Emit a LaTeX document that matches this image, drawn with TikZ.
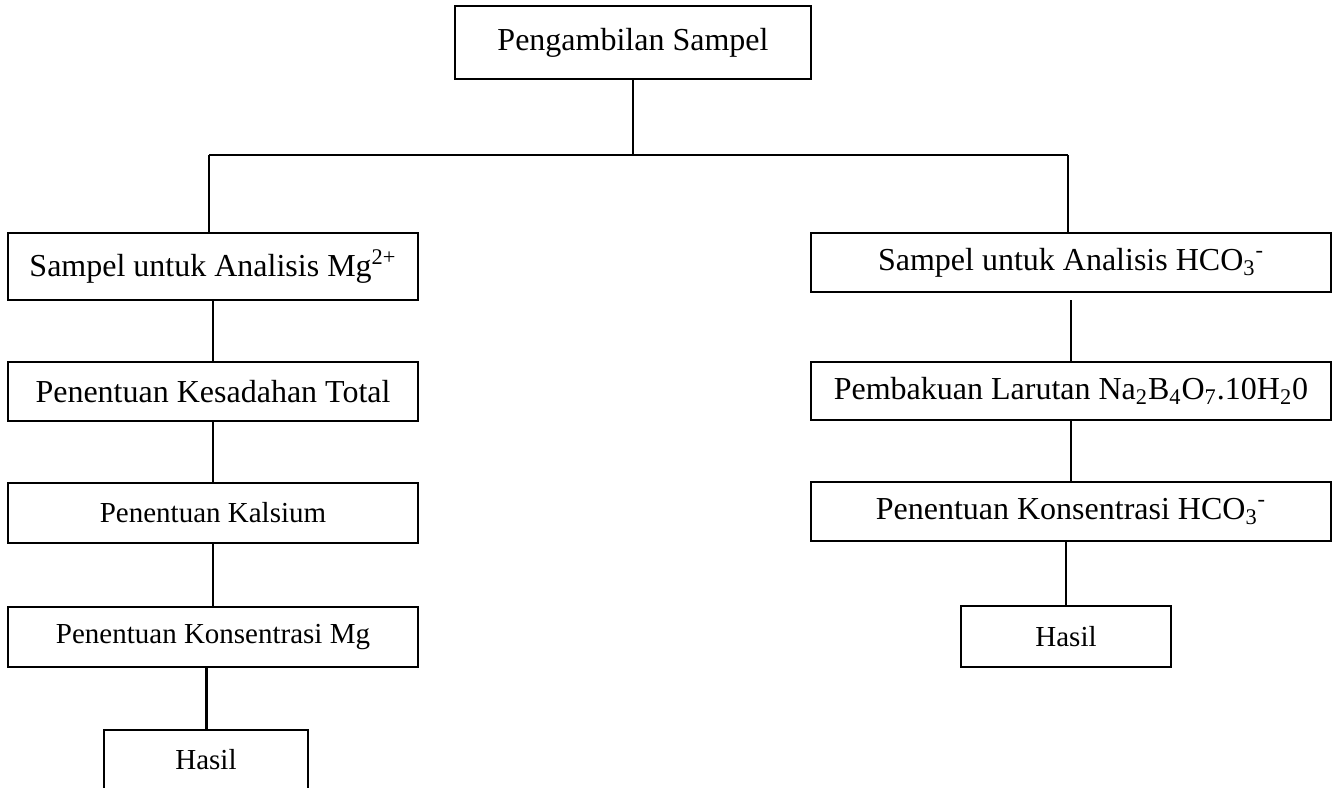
\documentclass[tikz,border=0pt]{standalone}
\usepackage{fontspec}
\setmainfont{Liberation Serif}
\tikzset{
  kotak/.style={draw, line width=1pt, inner sep=0pt, font=\fontsize{16}{19}\selectfont},
  kotakkecil/.style={kotak, font=\fontsize{14.5}{17}\selectfont},
  garis/.style={line width=0.9pt}
}
\begin{document}
\begin{tikzpicture}[x=0.5pt, y=-0.5pt]
            \clip (0,0) rectangle (1333,787);
            \node[kotak, minimum width=178pt, minimum height=36.5pt] (ambil) at (633, 42.5) {Pengambilan Sampel};
            \node[kotak, minimum width=205pt, minimum height=33.5pt] (mg) at (213, 266.5) {Sampel untuk Analisis Mg\textsuperscript{2+}};
            \node[kotak, minimum width=205pt, minimum height=29.5pt] (total) at (213, 391.5) {Penentuan Kesadahan Total};
            \node[kotakkecil, minimum width=205pt, minimum height=30pt] (kalsium) at (213, 513) {Penentuan Kalsium};
            \node[kotakkecil, minimum width=205pt, minimum height=30pt] (konsmg) at (213, 637) {Penentuan Konsentrasi Mg};
            \node[kotakkecil, minimum width=102pt, minimum height=30pt] (hasilmg) at (206, 760) {Hasil};
            \node[kotak, minimum width=260pt, minimum height=29.5pt] (hco) at (1071, 262.5) {Sampel untuk Analisis HCO\textsubscript{3}\textsuperscript{-}};
            \node[kotak, minimum width=260pt, minimum height=29pt] (baku) at (1071, 391) {Pembakuan Larutan Na\textsubscript{2}B\textsubscript{4}O\textsubscript{7}.10H\textsubscript{2}0};
            \node[kotak, minimum width=260pt, minimum height=29.5pt] (konshco) at (1071, 511.5) {Penentuan Konsentrasi HCO\textsubscript{3}\textsuperscript{-}};
            \node[kotakkecil, minimum width=105pt, minimum height=30.5pt] (hasilhco) at (1066, 636.5) {Hasil};
            \coordinate (cabkiri) at (209, 155);
            \coordinate (cabkanan) at (1068, 155);
            \draw[garis] (ambil) -- (ambil |- cabkiri);
            \draw[garis] (cabkiri) -- (cabkanan);
            \draw[garis] (cabkiri) -- (cabkiri |- mg.north);
            \draw[garis] (cabkanan) -- (cabkanan |- hco.north);
            \draw[garis] (mg) -- (total);
            \draw[garis] (total) -- (kalsium);
            \draw[garis] (kalsium) -- (konsmg);
            \draw[line width=1.5pt] (hasilmg) -- (hasilmg |- konsmg.south);
            \draw[garis] ([yshift=-3.5pt]hco.south) -- (baku);
            \draw[garis] (baku) -- (konshco);
            \draw[garis] (hasilhco) -- (hasilhco |- konshco.south);
        \end{tikzpicture}
\end{document}
